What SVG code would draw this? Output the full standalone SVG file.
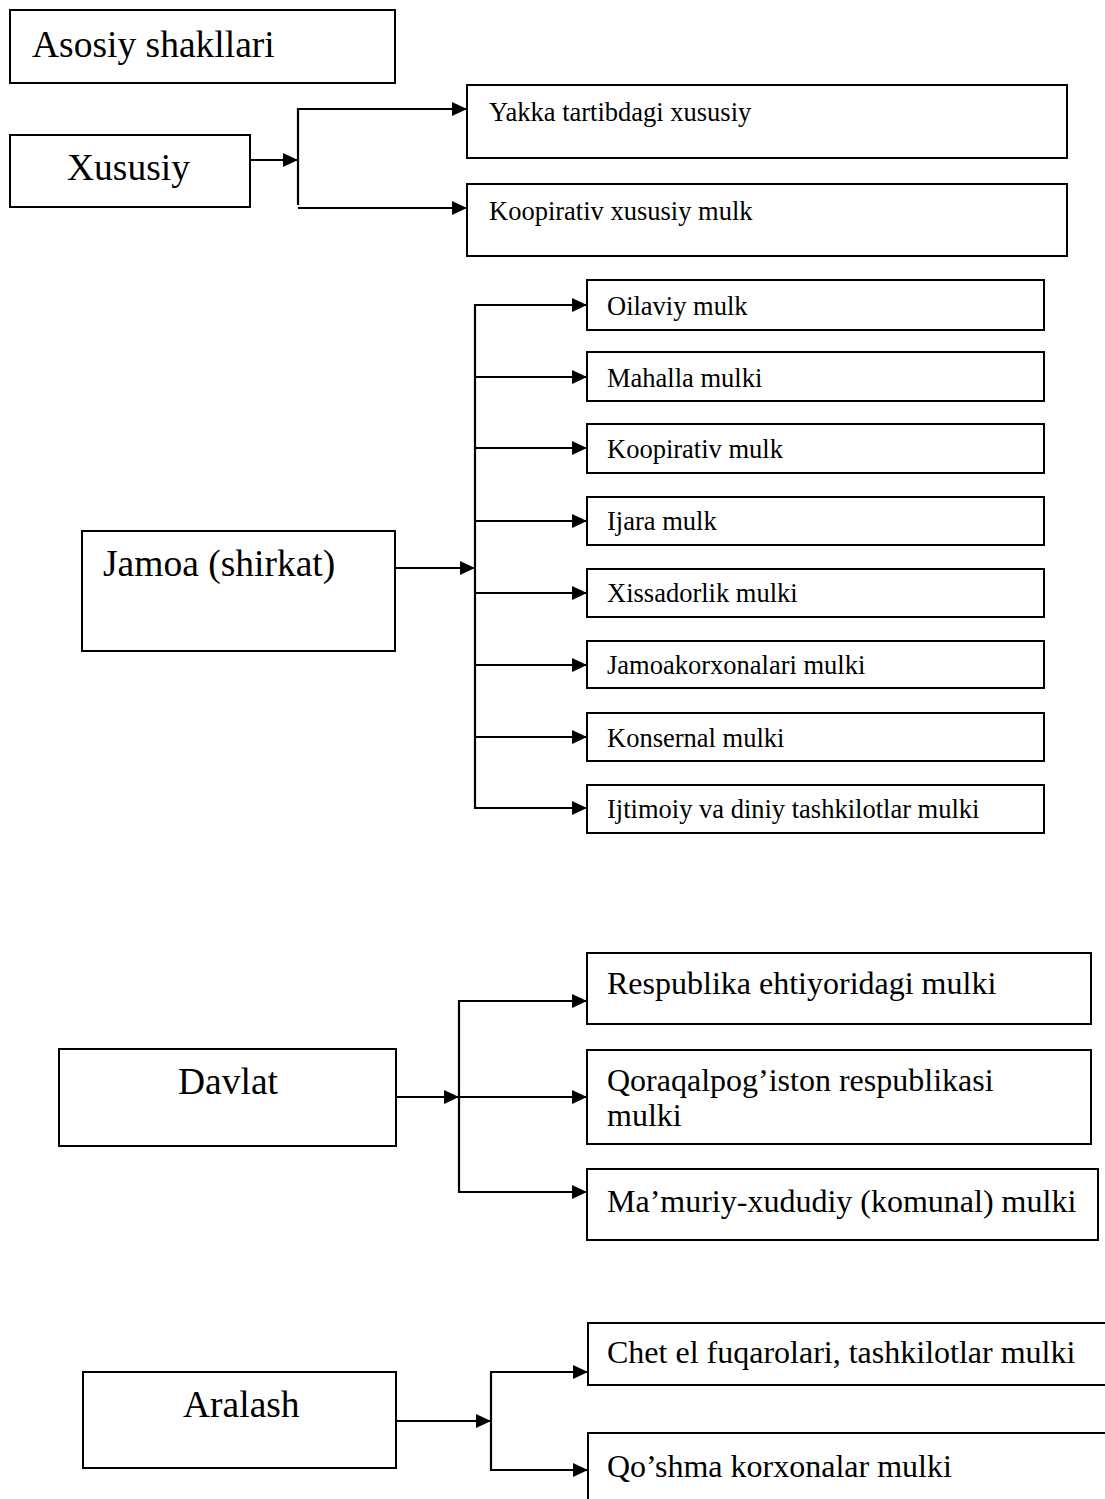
<svg xmlns="http://www.w3.org/2000/svg" width="1105" height="1499" viewBox="0 0 1105 1499">
<defs>
<marker id="arr" viewBox="0 0 15 14" refX="15" refY="7" markerWidth="15" markerHeight="14" markerUnits="userSpaceOnUse" orient="auto">
<path d="M0,0 L15,7 L0,14 z" fill="#000"/>
</marker>
<style>
.box{fill:#fff;stroke:#000;stroke-width:2}
.t{font-family:"Liberation Serif","Times New Roman",serif;fill:#000}
.big{font-size:37.5px}
.mid{font-size:32px}
.sm{font-size:26.5px}
.ln{fill:none;stroke:#000;stroke-width:2.2}
.ar{fill:none;stroke:#000;stroke-width:2.2;marker-end:url(#arr)}
</style>
</defs>
<rect width="1105" height="1499" fill="#fff"/>

<g id="connectors">
<line class="ar" x1="250" y1="160" x2="298" y2="160"/>
<line class="ln" x1="298" y1="108" x2="298" y2="205"/>
<line class="ar" x1="297" y1="109" x2="467" y2="109"/>
<line class="ar" x1="298" y1="208" x2="467" y2="208"/>

<line class="ar" x1="395" y1="568" x2="475" y2="568"/>
<line class="ln" x1="475" y1="304" x2="475" y2="809"/>
<line class="ar" x1="474" y1="305" x2="587" y2="305"/>
<line class="ar" x1="474" y1="377" x2="587" y2="377"/>
<line class="ar" x1="474" y1="448" x2="587" y2="448"/>
<line class="ar" x1="474" y1="521" x2="587" y2="521"/>
<line class="ar" x1="474" y1="593" x2="587" y2="593"/>
<line class="ar" x1="474" y1="665" x2="587" y2="665"/>
<line class="ar" x1="474" y1="737" x2="587" y2="737"/>
<line class="ar" x1="474" y1="808" x2="587" y2="808"/>

<line class="ar" x1="396" y1="1097" x2="459" y2="1097"/>
<line class="ln" x1="459" y1="1000" x2="459" y2="1193"/>
<line class="ar" x1="458" y1="1001" x2="587" y2="1001"/>
<line class="ar" x1="458" y1="1097" x2="587" y2="1097"/>
<line class="ar" x1="458" y1="1192" x2="587" y2="1192"/>

<line class="ar" x1="396" y1="1421" x2="491" y2="1421"/>
<line class="ln" x1="491" y1="1371" x2="491" y2="1471"/>
<line class="ar" x1="490" y1="1372" x2="588" y2="1372"/>
<line class="ar" x1="490" y1="1470" x2="588" y2="1470"/>
</g>

<g id="n-asosiy"><rect class="box" x="10" y="10" width="385" height="73"/><text class="t big" x="32" y="57">Asosiy shakllari</text></g>

<g id="n-xususiy"><rect class="box" x="10" y="135" width="240" height="72"/><text class="t big" x="67" y="180">Xususiy</text></g>
<g id="n-yakka"><rect class="box" x="467" y="85" width="600" height="73"/><text class="t sm" x="489" y="121">Yakka tartibdagi xususiy</text></g>
<g id="n-koop-xus"><rect class="box" x="467" y="184" width="600" height="72"/><text class="t sm" x="489" y="220">Koopirativ xususiy mulk</text></g>

<g id="n-jamoa"><rect class="box" x="82" y="531" width="313" height="120"/><text class="t big" x="103" y="576">Jamoa (shirkat)</text></g>
<g id="n-oilaviy"><rect class="box" x="587" y="280" width="457" height="50"/><text class="t sm" x="607" y="315">Oilaviy mulk</text></g>
<g id="n-mahalla"><rect class="box" x="587" y="352" width="457" height="49"/><text class="t sm" x="607" y="387">Mahalla mulki</text></g>
<g id="n-koop"><rect class="box" x="587" y="424" width="457" height="49"/><text class="t sm" x="607" y="458">Koopirativ mulk</text></g>
<g id="n-ijara"><rect class="box" x="587" y="497" width="457" height="48"/><text class="t sm" x="607" y="530">Ijara mulk</text></g>
<g id="n-xissa"><rect class="box" x="587" y="569" width="457" height="48"/><text class="t sm" x="607" y="602">Xissadorlik mulki</text></g>
<g id="n-jamoakorx"><rect class="box" x="587" y="641" width="457" height="47"/><text class="t sm" x="607" y="674">Jamoakorxonalari mulki</text></g>
<g id="n-konsern"><rect class="box" x="587" y="713" width="457" height="48"/><text class="t sm" x="607" y="747">Konsernal mulki</text></g>
<g id="n-ijtimoiy"><rect class="box" x="587" y="785" width="457" height="48"/><text class="t sm" x="607" y="818">Ijtimoiy va diniy tashkilotlar mulki</text></g>

<g id="n-davlat"><rect class="box" x="59" y="1049" width="337" height="97"/><text class="t big" x="178" y="1094">Davlat</text></g>
<g id="n-respublika"><rect class="box" x="587" y="953" width="504" height="71"/><text class="t mid" x="607" y="994">Respublika ehtiyoridagi mulki</text></g>
<g id="n-qoraqalpoq"><rect class="box" x="587" y="1050" width="504" height="94"/><text class="t mid" x="607" y="1091">Qoraqalpog’iston respublikasi</text><text class="t mid" x="607" y="1126">mulki</text></g>
<g id="n-mamuriy"><rect class="box" x="587" y="1169" width="511" height="71"/><text class="t mid" x="607" y="1212">Ma’muriy-xududiy (komunal) mulki</text></g>

<g id="n-aralash"><rect class="box" x="83" y="1372" width="313" height="96"/><text class="t big" x="183" y="1417">Aralash</text></g>
<g id="n-chetel"><rect class="box" x="588" y="1323" width="530" height="62"/><text class="t mid" x="607" y="1363">Chet el fuqarolari, tashkilotlar mulki</text></g>
<g id="n-qoshma"><rect class="box" x="588" y="1433" width="530" height="80"/><text class="t mid" x="607" y="1477">Qo’shma korxonalar mulki</text></g>
</svg>
